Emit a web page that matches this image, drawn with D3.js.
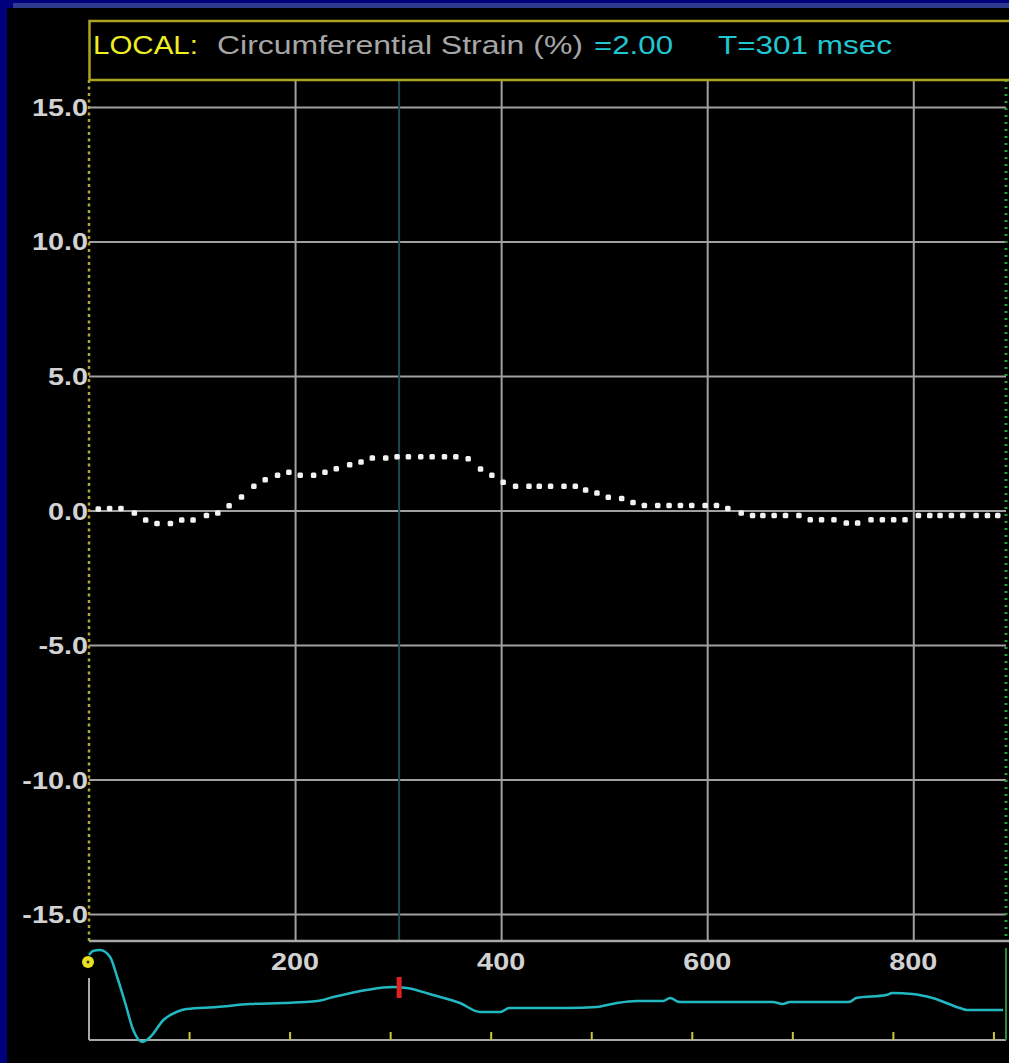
<!DOCTYPE html>
<html>
<head>
<meta charset="utf-8">
<script src="https://cdn.jsdelivr.net/npm/d3@7"></script>
<style>
  body { margin: 0; background: #00007c; }
  svg { display: block; }
  .lbl { font-family: "Liberation Sans", Arial, sans-serif; font-weight: bold; font-size: 24px; fill: #d2d2d2; }
  .title { font-family: "Liberation Sans", Arial, sans-serif; font-size: 26px; }
</style>
</head>
<body>
<svg id="chart"></svg>
<script>
// strain trace (dots), time in msec
const timeMs = [9,20,31,44,55,66,79,90,101,114,125,136,148,160,171,183,194,205,218,229,240,253,264,275,288,299,310,322,333,345,356,368,380,391,402,414,427,437,448,461,472,482,493,504,517,528,539,552,563,574,585,598,609,620,633,644,654,665,676,689,700,711,723,735,746,759,770,781,792,805,816,826,837,848,861,872,882];
const strainPct = [0.06,0.07,0.07,-0.09,-0.35,-0.48,-0.48,-0.35,-0.35,-0.19,-0.09,0.18,0.50,0.90,1.14,1.31,1.42,1.31,1.31,1.42,1.55,1.70,1.80,1.95,1.95,2.00,2.00,2.00,2.00,2.00,2.00,1.92,1.54,1.31,1.05,0.90,0.90,0.90,0.90,0.90,0.90,0.76,0.65,0.49,0.45,0.30,0.19,0.19,0.19,0.19,0.19,0.19,0.19,0.07,-0.09,-0.19,-0.19,-0.19,-0.19,-0.19,-0.34,-0.34,-0.34,-0.46,-0.46,-0.34,-0.34,-0.34,-0.34,-0.19,-0.19,-0.19,-0.19,-0.19,-0.19,-0.19,-0.19];

// reference trace in the bottom strip (arbitrary units)
const volTime = [0,4,11,21,28,36,44,53,61,74,87,97,127,160,193,227,243,276,302,316,342,369,389,409,418,475,505,525,545,571,578,587,680,690,697,756,763,793,799,819,839,866,873,909];
const volValue = [90,94,95,88,68,42,15,3,8,25,33,36,38,41,42,44,48,55,58,57,50,42,33,33,37,37,38,42,44,44,47,43,43,41,43,43,47,50,52,51,47,37,35,35];

const yTicks = [-15, -10, -5, 0, 5, 10, 15];
const xTicks = [200, 400, 600, 800];
const stripTicks = [100, 200, 300, 400, 500, 600, 700, 800, 900];

const cursorT = 301;
const cursorValue = 2.00;

const width = 1009, height = 1063;
const plot = { left: 89, right: 1006, top: 80, bottom: 941 };
const strip = { top: 945, bottom: 1045, axis: 1040 };

// plain hyphen for negatives, like the scanner's display
const fmt = d3.formatLocale({ decimal: ".", thousands: ",", grouping: [3], currency: ["", ""], minus: "-" });

const svg = d3.select("#chart").attr("width", width).attr("height", height);

// frame
svg.append("rect").attr("width", width).attr("height", height).attr("fill", "#00007c");
svg.append("rect").attr("x", 13).attr("y", 3).attr("width", width - 13).attr("height", 5).attr("fill", "#2e3b8e");
svg.append("rect").attr("x", 7).attr("y", 8).attr("width", width - 7).attr("height", height - 8).attr("fill", "#000");

const x = d3.scaleLinear().domain([0, 890]).range([plot.left, plot.right]);
const y = d3.scaleLinear().domain([-16, 16]).range([plot.bottom, plot.top]);
const xs = d3.scaleLinear().domain([0, 912]).range([plot.left, plot.right]);
const ys = d3.scaleLinear().domain([0, 100]).range([strip.bottom, strip.top]);

// horizontal grid
const gy = svg.append("g")
  .attr("transform", `translate(${plot.left},0)`)
  .call(d3.axisLeft(y).tickValues(yTicks).tickSize(-(plot.right - plot.left)).tickFormat(""));
gy.select(".domain").remove();
gy.selectAll("line").attr("stroke", "#a0a0a0").attr("stroke-width", 2);

// vertical grid
const gx = svg.append("g")
  .attr("transform", `translate(0,${plot.bottom})`)
  .call(d3.axisBottom(x).tickValues(xTicks).tickSize(-(plot.bottom - plot.top)).tickFormat(""));
gx.select(".domain").remove();
gx.selectAll("line").attr("stroke", "#a0a0a0").attr("stroke-width", 2);

// cursor line
svg.append("line")
  .attr("x1", x(cursorT)).attr("x2", x(cursorT))
  .attr("y1", plot.top).attr("y2", plot.bottom)
  .attr("stroke", "#1e4a4c").attr("stroke-width", 2);

// plot borders
svg.append("line")
  .attr("x1", plot.left).attr("x2", width).attr("y1", plot.bottom).attr("y2", plot.bottom)
  .attr("stroke", "#a8a8a8").attr("stroke-width", 2.5);
svg.append("line")
  .attr("x1", plot.left).attr("x2", plot.left).attr("y1", plot.top).attr("y2", plot.bottom + 3)
  .attr("stroke", "#a9a838").attr("stroke-width", 2.5).attr("stroke-dasharray", "3,3.5");
svg.append("line")
  .attr("x1", plot.right).attr("x2", plot.right).attr("y1", plot.top).attr("y2", plot.bottom)
  .attr("stroke", "#2c9a3c").attr("stroke-width", 3).attr("stroke-dasharray", "2,5");

// title box
svg.append("rect")
  .attr("x", 89.5).attr("y", 21).attr("width", width + 10).attr("height", plot.top - 21)
  .attr("fill", "none").attr("stroke", "#aaa420").attr("stroke-width", 2.5);

const title = svg.append("g").attr("class", "title");
[
  { t: "LOCAL:", x: 93, len: 105, c: "#eeee22" },
  { t: "Circumferential Strain (%)", x: 217, len: 366, c: "#a6a6a6" },
  { t: "=" + d3.format(".2f")(cursorValue), x: 594, len: 79, c: "#22c6d0" },
  { t: "T=" + cursorT + " msec", x: 718, len: 174, c: "#22c6d0" }
].forEach(s => {
  title.append("text")
    .attr("x", s.x).attr("y", 54)
    .attr("textLength", s.len).attr("lengthAdjust", "spacingAndGlyphs")
    .attr("fill", s.c).text(s.t);
});

// y labels
svg.append("g").selectAll("text").data(yTicks).join("text")
  .attr("class", "lbl")
  .attr("text-anchor", "end")
  .attr("transform", d => `translate(88,${y(d) + 9}) scale(1.2,1)`)
  .text(d => fmt.format(".1f")(d));

// x labels
svg.append("g").selectAll("text").data(xTicks).join("text")
  .attr("class", "lbl")
  .attr("text-anchor", "middle")
  .attr("transform", d => `translate(${x(d)},970) scale(1.2,1)`)
  .text(d => d);

// strain dots
svg.append("g").selectAll("rect").data(timeMs).join("rect")
  .attr("x", d => x(d) - 2.75)
  .attr("y", (d, i) => y(strainPct[i]) - 2.75)
  .attr("width", 5.5).attr("height", 5.5).attr("rx", 1.5)
  .attr("fill", "#f2f2f2");

// bottom strip
svg.append("line")
  .attr("x1", plot.left).attr("x2", plot.right).attr("y1", strip.axis).attr("y2", strip.axis)
  .attr("stroke", "#a8a8a8").attr("stroke-width", 2);
svg.append("line")
  .attr("x1", plot.left).attr("x2", plot.left).attr("y1", 978).attr("y2", strip.axis)
  .attr("stroke", "#a8a8a8").attr("stroke-width", 2);
svg.append("line")
  .attr("x1", plot.right).attr("x2", plot.right).attr("y1", 948).attr("y2", strip.axis)
  .attr("stroke", "#2a8a3a").attr("stroke-width", 2);
svg.append("g").selectAll("line").data(stripTicks).join("line")
  .attr("x1", d => xs(d)).attr("x2", d => xs(d))
  .attr("y1", strip.axis - 8).attr("y2", strip.axis)
  .attr("stroke", "#c8c640").attr("stroke-width", 2);

const volLine = d3.line()
  .x(d => xs(d))
  .y((d, i) => ys(volValue[i]))
  .curve(d3.curveMonotoneX);
svg.append("path")
  .attr("d", volLine(volTime))
  .attr("fill", "none").attr("stroke", "#22b8c2").attr("stroke-width", 2.5);

// markers
svg.append("circle").attr("cx", 88).attr("cy", 962).attr("r", 6).attr("fill", "#e8e020");
svg.append("circle").attr("cx", 88).attr("cy", 962).attr("r", 1.5).attr("fill", "#333");
svg.append("rect")
  .attr("x", x(cursorT) - 2.5).attr("y", 977).attr("width", 5).attr("height", 21)
  .attr("fill", "#e02222");
</script>
</body>
</html>
